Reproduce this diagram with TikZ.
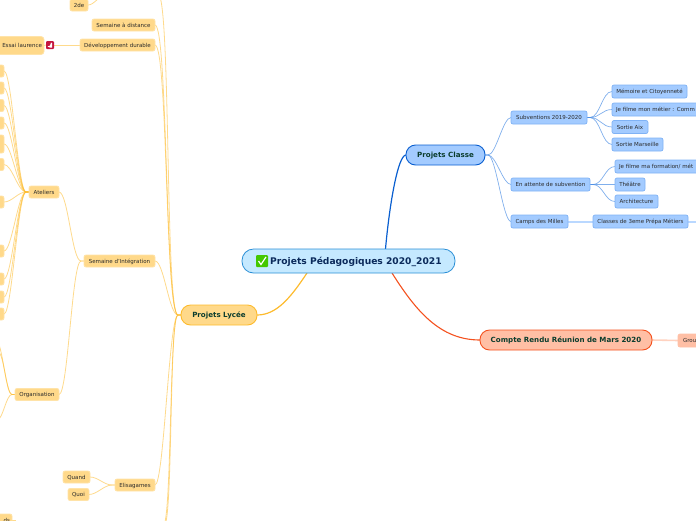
\documentclass[tikz,border=0pt]{standalone}
\usepackage{fontspec}
\setmainfont{DejaVu Sans}
\usetikzlibrary{calc,backgrounds}
\definecolor{yfill}{HTML}{FFD98A}
\definecolor{yline}{HTML}{FDBB2D}
\definecolor{ysub}{HTML}{FFE3A8}
\definecolor{bfill}{HTML}{A3CBFF}
\definecolor{bline}{HTML}{0A5FD0}
\definecolor{bsub}{HTML}{7FB2F5}
\definecolor{rfill}{HTML}{FFBFA5}
\definecolor{rline}{HTML}{F4511E}
\definecolor{rootfill}{HTML}{C5E9FF}
\definecolor{rootline}{HTML}{2B8FD6}
\definecolor{roottext}{HTML}{0B2A5B}
\definecolor{maintext}{HTML}{0B3D2E}
\definecolor{subtext}{HTML}{2A2A2A}
\definecolor{alertred}{HTML}{C4163F}
\definecolor{checkgreen}{HTML}{44C800}
\tikzset{
  basebox/.style={rectangle,inner sep=0pt,outer sep=0pt},
  smalltext/.style={text height=4.6pt,text depth=0pt,text=subtext,font=\fontsize{5.5}{6}\selectfont},
  rootbox/.style={basebox,fill=rootfill,draw=rootline,line width=.8pt,rounded corners=11.5pt,minimum width=213pt,minimum height=24pt,text=roottext},
  mainbox/.style={basebox,line width=.9pt,rounded corners=9.5pt,minimum height=20pt,text height=5.8pt,text depth=0pt,text=maintext,font=\fontsize{7.1}{8}\selectfont\bfseries},
  ybox/.style={basebox,smalltext,fill=yfill,draw=ysub,line width=.8pt,rounded corners=2pt,minimum height=12pt},
  bbox/.style={basebox,smalltext,fill=bfill,draw=bsub,line width=.7pt,rounded corners=2pt,minimum height=13pt},
  rbox/.style={basebox,smalltext,fill=rfill,draw=rfill,line width=.7pt,rounded corners=2pt,minimum height=13pt},
  ylink/.style={draw=yline,draw opacity=.55,line width=.8pt},
  blink/.style={draw=bline!45!bsub,draw opacity=.7,line width=.7pt},
  bthick/.style={draw=bfill!75!white,line width=2pt},
  rthick/.style={draw=rfill!70!white,line width=1.6pt},
}
% #1 style, #2 parent point, #3 child point, #4 handle length
\newcommand{\linkL}[4]{\draw[#1] (#2) -- ++(-3,0) .. controls +(-#4,0) and +(#4,0) .. (#3);}
\newcommand{\linkR}[4]{\draw[#1] (#2) -- ++(3,0) .. controls +(#4,0) and +(-#4,0) .. (#3);}
\begin{document}
\begin{tikzpicture}[x=1pt,y=-1pt]
\useasboundingbox (0,0) rectangle (696,520);
\clip (0,0) rectangle (696,520);

% main nodes
\node[rootbox] (root) at (348.5,261) {};
\node[text=roottext,font=\fontsize{9.15}{10}\selectfont\bfseries,anchor=west,inner sep=0pt] (roottitle) at (270,261.8) {Projets Pédagogiques 2020\_2021};
\node[mainbox,fill=bfill,draw=bline,minimum width=79pt] (classe) at (445.5,155) {Projets Classe};
\node[mainbox,fill=yfill,draw=yline,minimum width=76pt] (lycee) at (219,315) {Projets Lycée};
\node[mainbox,fill=rfill,draw=rline,minimum width=172pt] (compte) at (566,340) {Compte Rendu Réunion de Mars 2020};
\node[rbox,minimum width=40pt,text width=38pt,align=left] (groupe) at (698,340.5) {\hspace{4pt}Grou};

% blue nodes
\node[bbox,minimum width=76pt] (subv) at (549,117.5) {Subventions 2019-2020};
\node[bbox,minimum width=79pt] (attente) at (550.5,184.5) {En attente de subvention};
\node[bbox,minimum width=57pt] (camps) at (539.5,221.5) {Camps des Milles};
\node[bbox,minimum width=75pt] (memoire) at (649.5,91.5) {Mémoire et Citoyenneté};
\node[bbox,minimum width=110pt,text width=106pt,align=left] (monmetier) at (667,109.5) {\hspace{2pt}Je filme mon métier : Comm};
\node[bbox,minimum width=36pt] (aix) at (630,127) {Sortie Aix};
\node[bbox,minimum width=51pt] (marseille) at (637.5,144.5) {Sortie Marseille};
\node[bbox,minimum width=110pt,text width=106pt,align=left] (formation) at (670,166.5) {\hspace{2pt}Je filme ma formation/ mét};
\node[bbox,minimum width=30pt] (theatre) at (630,184.5) {Théâtre};
\node[bbox,minimum width=43pt] (archi) at (636.5,201.5) {Architecture};
\node[bbox,minimum width=95pt] (classes3) at (640.5,221.5) {Classes de 3eme Prépa Métiers};
\coordinate (outblue) at (700,221.5);

% yellow nodes
\node[ybox,minimum width=18pt] (deuxde) at (79,5) {2de};
\coordinate (outdeuxde) at (104,-8);
\node[ybox,minimum width=63pt] (distance) at (123.5,25) {Semaine à distance};
\node[ybox,minimum width=75pt] (durable) at (117.5,45) {Développement durable};
\node[ybox,minimum height=18pt,minimum width=60pt,text width=56pt,align=right,rounded corners=3pt] (essai) at (14,45.5) {Essai laurence\hspace{5pt}};
\node[ybox,minimum width=71pt] (integration) at (119.5,261) {Semaine d'Intégration};
\node[ybox,minimum width=30pt] (ateliers) at (44,192) {Ateliers};
\node[ybox,minimum width=44pt] (organisation) at (37,394.5) {Organisation};
\node[ybox,minimum width=40pt] (elisa) at (135,485) {Elisagames};
\node[ybox,minimum width=27pt] (quand) at (76.5,477) {Quand};
\node[ybox,minimum width=21pt] (quoi) at (78.5,494.5) {Quoi};
\node[ybox,minimum width=32pt,text width=28pt,align=right] (bas) at (-4,520) {ds\hspace{3pt}};
% stubs of the nodes cut off by the left edge
\foreach \n/\yy/\hh in {a/71/12,b/88/12,c/105.5/12,d/123/12,e/144/18,f/164.5/12,g/202/12,h/251/12,i/279/12,j/297/12,k/314/12}
  \node[ybox,minimum width=24pt,minimum height=\hh pt] (stub\n) at (-8,\yy) {};
% free ends
\coordinate (orgup1) at (-4,340);
\coordinate (orgup2) at (-2,352);
\coordinate (orgdown) at (-3,420);
\coordinate (topout) at (158,-6);
\coordinate (botout) at (163,526);
\coordinate (botout2) at (164,526);
% icon of Essai laurence
\node[basebox,fill=alertred,rounded corners=1pt,minimum width=8pt,minimum height=8pt] (alert) at (50,45) {};
\fill[white] (47.5,46.5) -- (50,45.5) -- (51,42.5) -- (52,43) -- (52,47.5) -- (50,47.5) -- cycle;
% check icon
\node[basebox,fill=checkgreen,rounded corners=1pt,minimum width=12pt,minimum height=12pt] (check) at (262,261) {};
\draw[white,line width=1.2pt] (258.5,261) -- (261,264.5) -- (266,257);

\begin{scope}[on background layer]
% root links
\draw[draw=bline,line width=1.2pt] ($(root.north west)+(143.5,0)$) .. controls +(4,-45) and +(-8,0) .. (classe.west);
\draw[draw=yline,line width=1.2pt] ($(root.south west)+(65,0)$) .. controls +(-16,24) and +(20,0) .. (lycee.east);
\draw[draw=rline,line width=1.1pt] ($(root.south west)+(150,0)$) .. controls +(24,38) and +(-40,0) .. (compte.west);
% blue links
\linkR{blink}{classe.east}{subv.west}{8}
\linkR{blink}{classe.east}{attente.west}{8}
\linkR{blink}{classe.east}{camps.west}{8}
\linkR{blink}{subv.east}{memoire.west}{10}
\linkR{blink}{subv.east}{monmetier.west}{10}
\linkR{blink}{subv.east}{aix.west}{10}
\linkR{blink}{subv.east}{marseille.west}{10}
\linkR{blink}{attente.east}{formation.west}{10}
\linkR{blink}{attente.east}{theatre.west}{10}
\linkR{blink}{attente.east}{archi.west}{10}
\draw[bthick] (camps.east) -- (classes3.west);
\draw[bthick] (classes3.east) -- (outblue);
\draw[rthick] (compte.east) -- (groupe.west);
% yellow links
\linkL{ylink}{lycee.west}{topout}{13}
\linkL{ylink}{lycee.west}{distance.east}{13}
\linkL{ylink}{lycee.west}{durable.east}{13}
\linkL{ylink}{lycee.west}{integration.east}{9}
\linkL{ylink}{lycee.west}{elisa.east}{9}
\linkL{ylink}{lycee.west}{botout}{9}
\linkL{ylink}{lycee.west}{botout2}{9}
\draw[ylink] (deuxde.east) .. controls +(6,0) and +(-3,3) .. (outdeuxde);
\draw[ylink] (durable.west) -- (alert.east);
\draw[ylink] (alert.west) -- (essai.east);
\linkL{ylink}{integration.west}{ateliers.east}{9}
\linkL{ylink}{integration.west}{organisation.east}{9}
\foreach \n in {a,b,c,d,e,f,g,h,i,j,k}{
  \linkL{ylink}{ateliers.west}{stub\n.east}{8}
}
\linkL{ylink}{organisation.west}{orgup1}{6}
\linkL{ylink}{organisation.west}{orgup2}{6}
\linkL{ylink}{organisation.west}{orgdown}{6}
\linkL{ylink}{elisa.west}{quand.east}{8}
\linkL{ylink}{elisa.west}{quoi.east}{8}
\draw[ylink] (bas.east) -- ++(4,0);
\end{scope}
\end{tikzpicture}
\end{document}
